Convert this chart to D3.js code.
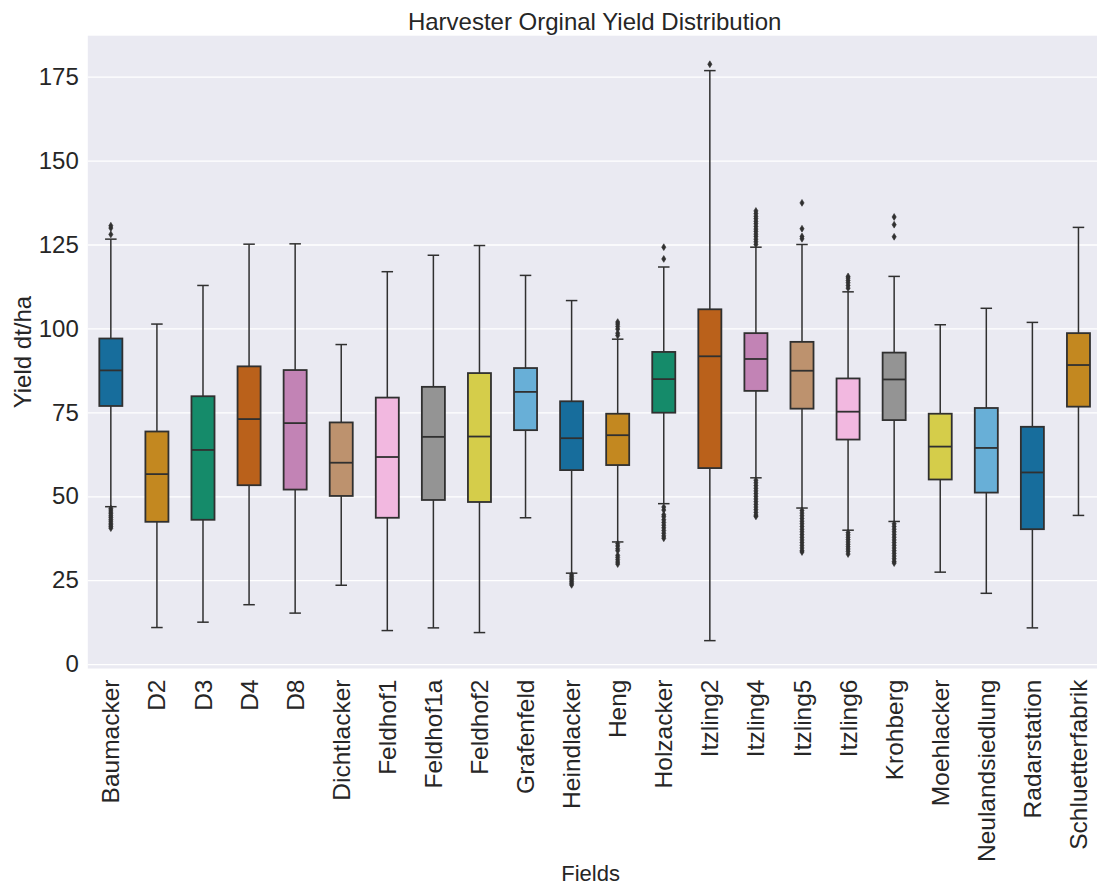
<!DOCTYPE html>
<html>
<head>
<meta charset="utf-8">
<script src="https://cdn.jsdelivr.net/npm/d3@7"></script>
<style>
  body { margin: 0; background: #ffffff; }
  svg { display: block; }
  text { font-family: "Liberation Sans", Arial, sans-serif; fill: #262626; }
</style>
</head>
<body>
<svg id="chart" width="1097" height="888"></svg>
<script>
// Yield distribution per field (dt/ha): quartiles, whisker ends and outliers
const fields = ["Baumacker", "D2", "D3", "D4", "D8", "Dichtlacker", "Feldhof1", "Feldhof1a",
  "Feldhof2", "Grafenfeld", "Heindlacker", "Heng", "Holzacker", "Itzling2", "Itzling4",
  "Itzling5", "Itzling6", "Krohberg", "Moehlacker", "Neulandsiedlung", "Radarstation", "Schluetterfabrik"];

const whiskerLow  = [46.9, 10.9, 12.5, 17.7, 15.2, 23.5, 10.0, 10.8, 9.4, 43.6, 27.1, 36.4, 47.8, 7.0, 55.5, 46.5, 39.9, 42.5, 27.4, 21.1, 10.8, 44.3];
const q1          = [76.9, 42.4, 43.0, 53.3, 52.0, 50.1, 43.6, 48.9, 48.3, 69.7, 57.8, 59.3, 74.9, 58.4, 81.4, 76.1, 66.9, 72.7, 55.0, 51.1, 40.2, 76.7];
const median      = [87.5, 56.6, 63.8, 73.0, 71.8, 60.0, 61.7, 67.7, 67.8, 81.1, 67.3, 68.2, 84.9, 91.7, 90.9, 87.4, 75.2, 84.8, 64.8, 64.4, 57.1, 89.1];
const q3          = [97.0, 69.3, 79.8, 88.7, 87.6, 72.0, 79.4, 82.6, 86.7, 88.2, 78.3, 74.6, 93.0, 105.7, 98.6, 96.0, 85.1, 92.8, 74.6, 76.3, 70.7, 98.6];
const whiskerHigh = [126.6, 101.3, 112.8, 125.1, 125.2, 95.2, 116.9, 121.8, 124.7, 115.8, 108.3, 96.8, 118.3, 176.8, 124.2, 125.0, 110.9, 115.5, 101.1, 106.0, 101.8, 130.1];

const outliersHigh = [
  [128.0, 129.9, 130.6], [], [], [], [], [], [], [], [], [], [],
  [97.9, 98.6, 99.8, 100.6, 101.3, 101.9],
  [120.7, 124.2],
  [178.7],
  [125.0, 125.8, 126.6, 127.4, 128.1, 128.9, 129.6, 130.4, 131.2, 131.9, 132.7, 133.4, 134.2, 135.0],
  [126.7, 127.4, 129.7, 137.4],
  [112.0, 112.8, 113.6, 114.3, 115.0, 115.5],
  [127.3, 130.9, 133.2],
  [], [], [], []
];
const outliersLow = [
  [46.4, 45.9, 45.3, 44.8, 44.2, 43.7, 43.1, 42.6, 42.0, 41.5, 41.0, 40.5],
  [], [], [], [], [], [], [], [], [],
  [26.6, 26.1, 25.6, 25.1, 24.6, 24.1, 23.6],
  [35.9, 35.2, 34.4, 33.8, 32.4, 31.8, 31.1, 30.4, 29.8],
  [46.8, 45.9, 44.5, 43.9, 43.0, 42.2, 41.4, 40.6, 39.8, 39.0, 38.2, 37.5],
  [],
  [54.8, 54.0, 53.2, 52.4, 51.6, 50.8, 50.0, 49.2, 48.4, 47.6, 46.8, 46.0, 45.2, 44.4, 44.0],
  [45.8, 45.0, 44.2, 43.4, 42.6, 41.8, 41.0, 40.2, 39.4, 38.6, 37.8, 37.0, 36.2, 35.4, 34.6, 33.8, 33.4],
  [39.2, 38.5, 37.8, 37.1, 36.4, 35.7, 35.0, 34.3, 33.6, 32.8],
  [41.8, 41.0, 40.2, 39.4, 38.6, 37.8, 37.0, 36.2, 35.4, 34.6, 33.8, 33.0, 32.2, 31.4, 30.6, 30.1],
  [], [], [], []
];

const yTicks = [0, 25, 50, 75, 100, 125, 150, 175];
const palette = ["#0173b2", "#de8f05", "#029e73", "#d55e00", "#cc78bc",
                 "#ca9161", "#fbafe4", "#949494", "#ece133", "#56b4e9"];

// Box fills are the palette at 75% saturation
function boxColor(i) {
  const c = d3.hsl(palette[i % palette.length]);
  c.s *= 0.75;
  return c.formatHex();
}
const lineGray = "#303030";
const fontStack = "\"Liberation Sans\", Arial, sans-serif";

const plot = { left: 87.8, right: 1101.5, top: 35.7, bottom: 668.5 };

const x = d3.scaleBand().domain(fields).range([plot.left, plot.right]).padding(0);
const y = d3.scaleLinear().domain([-1.3, 187.2]).range([plot.bottom, plot.top]);

const svg = d3.select("#chart");

// Plot background
svg.append("rect")
  .attr("x", plot.left).attr("y", plot.top)
  .attr("width", plot.right - plot.left).attr("height", plot.bottom - plot.top)
  .attr("fill", "#eaeaf2");

// Horizontal grid
const grid = svg.append("g")
  .attr("transform", `translate(${plot.left},0)`)
  .call(d3.axisLeft(y).tickValues(yTicks).tickSize(-(plot.right - plot.left)).tickFormat(""));
grid.select(".domain").remove();
grid.selectAll("line").attr("stroke", "#ffffff").attr("stroke-width", 1.3);

// Y axis labels
const yAxis = svg.append("g")
  .attr("transform", `translate(${plot.left},0)`)
  .call(d3.axisLeft(y).tickValues(yTicks).tickSize(0).tickPadding(9));
yAxis.select(".domain").remove();
yAxis.selectAll("text")
  .attr("font-size", "24px")
  .attr("fill", "#262626")
  .style("font-family", fontStack);

// X axis labels, rotated
const xAxis = svg.append("g")
  .attr("transform", `translate(0,${plot.bottom})`)
  .call(d3.axisBottom(x).tickSize(0));
xAxis.select(".domain").remove();
xAxis.selectAll("text")
  .attr("transform", "rotate(-90)")
  .attr("x", -11)
  .attr("y", 0)
  .attr("dy", "0.35em")
  .style("text-anchor", "end")
  .attr("font-size", "24.5px")
  .attr("fill", "#262626")
  .style("font-family", fontStack);

// Boxes
const boxW = x.bandwidth() * 0.5;
const capW = boxW * 0.5;
const boxes = svg.append("g");

fields.forEach((f, i) => {
  const cx = x(f) + x.bandwidth() / 2;
  const g = boxes.append("g");

  // whiskers
  g.append("line")
    .attr("x1", cx).attr("x2", cx)
    .attr("y1", y(q3[i])).attr("y2", y(whiskerHigh[i]))
    .attr("stroke", lineGray).attr("stroke-width", 1.5);
  g.append("line")
    .attr("x1", cx).attr("x2", cx)
    .attr("y1", y(q1[i])).attr("y2", y(whiskerLow[i]))
    .attr("stroke", lineGray).attr("stroke-width", 1.5);
  // caps
  [whiskerHigh[i], whiskerLow[i]].forEach(v => {
    g.append("line")
      .attr("x1", cx - capW / 2).attr("x2", cx + capW / 2)
      .attr("y1", y(v)).attr("y2", y(v))
      .attr("stroke", lineGray).attr("stroke-width", 1.5);
  });
  // box
  g.append("rect")
    .attr("x", cx - boxW / 2).attr("width", boxW)
    .attr("y", y(q3[i])).attr("height", y(q1[i]) - y(q3[i]))
    .attr("fill", boxColor(i))
    .attr("stroke", lineGray).attr("stroke-width", 1.8);
  // median
  g.append("line")
    .attr("x1", cx - boxW / 2).attr("x2", cx + boxW / 2)
    .attr("y1", y(median[i])).attr("y2", y(median[i]))
    .attr("stroke", lineGray).attr("stroke-width", 1.8);
  // outliers as thin diamonds
  const fliers = outliersHigh[i].concat(outliersLow[i]);
  g.selectAll("path.flier").data(fliers).enter().append("path")
    .attr("class", "flier")
    .attr("d", "M0,-3.4L2.1,0L0,3.4L-2.1,0Z")
    .attr("transform", d => `translate(${cx},${y(d)})`)
    .attr("fill", lineGray)
    .attr("stroke", lineGray)
    .attr("stroke-width", 0.6);
});

// Titles
svg.append("text")
  .attr("x", (plot.left + plot.right) / 2)
  .attr("y", 30)
  .attr("text-anchor", "middle")
  .attr("font-size", "24px")
  .text("Harvester Orginal Yield Distribution");

svg.append("text")
  .attr("x", (plot.left + plot.right) / 2 - 4)
  .attr("y", 881)
  .attr("text-anchor", "middle")
  .attr("font-size", "22px")
  .text("Fields");

svg.append("text")
  .attr("transform", `translate(31,${(plot.top + plot.bottom) / 2}) rotate(-90)`)
  .attr("text-anchor", "middle")
  .attr("font-size", "24px")
  .text("Yield dt/ha");
</script>
</body>
</html>
